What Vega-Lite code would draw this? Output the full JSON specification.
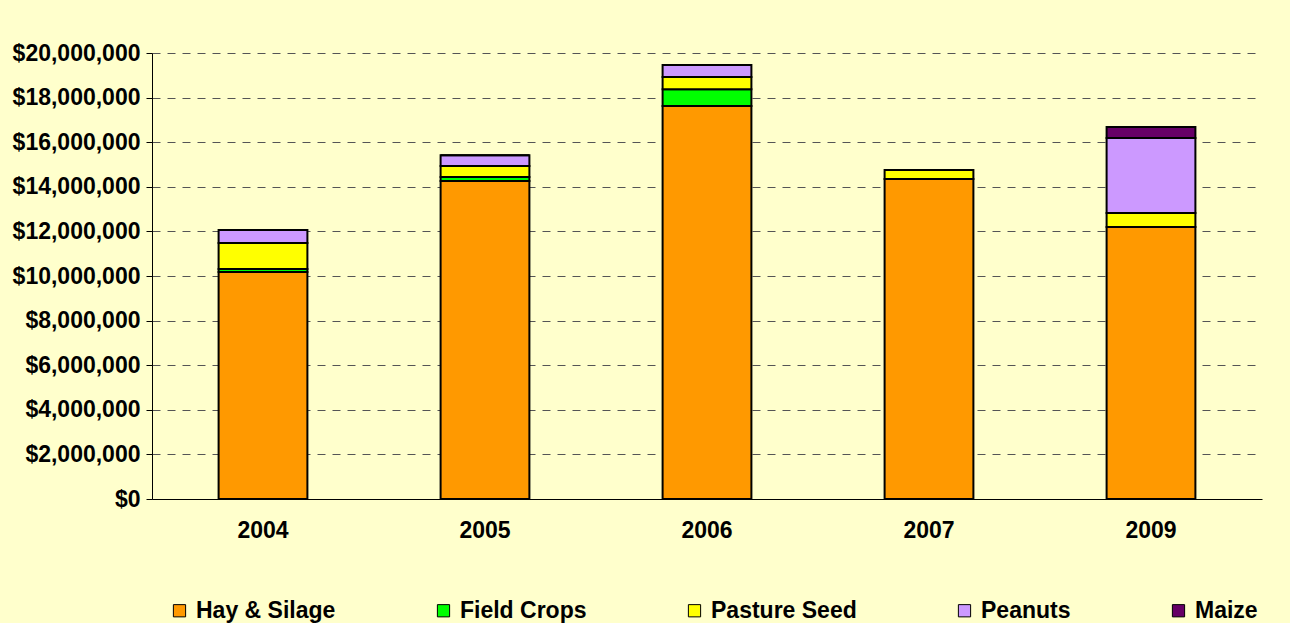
{
  "$schema": "https://vega.github.io/schema/vega-lite/v6.json",
  "width": 1110,
  "height": 446,
  "autosize": {"type": "none"},
  "padding": {"left": 152, "top": 53, "right": 28, "bottom": 124},
  "background": "#FFFFCC",
  "config": {
    "view": {"stroke": null},
    "font": "Liberation Sans"
  },
  "data": {
    "values": [
      {"year": "2004", "crop": "Hay & Silage", "order": 1, "value": 10180000},
      {"year": "2004", "crop": "Field Crops", "order": 2, "value": 130000},
      {"year": "2004", "crop": "Pasture Seed", "order": 3, "value": 1170000},
      {"year": "2004", "crop": "Peanuts", "order": 4, "value": 580000},
      {"year": "2004", "crop": "Maize", "order": 5, "value": 0},
      {"year": "2005", "crop": "Hay & Silage", "order": 1, "value": 14260000},
      {"year": "2005", "crop": "Field Crops", "order": 2, "value": 180000},
      {"year": "2005", "crop": "Pasture Seed", "order": 3, "value": 490000},
      {"year": "2005", "crop": "Peanuts", "order": 4, "value": 490000},
      {"year": "2005", "crop": "Maize", "order": 5, "value": 0},
      {"year": "2006", "crop": "Hay & Silage", "order": 1, "value": 17620000},
      {"year": "2006", "crop": "Field Crops", "order": 2, "value": 760000},
      {"year": "2006", "crop": "Pasture Seed", "order": 3, "value": 540000},
      {"year": "2006", "crop": "Peanuts", "order": 4, "value": 540000},
      {"year": "2006", "crop": "Maize", "order": 5, "value": 0},
      {"year": "2007", "crop": "Hay & Silage", "order": 1, "value": 14350000},
      {"year": "2007", "crop": "Field Crops", "order": 2, "value": 0},
      {"year": "2007", "crop": "Pasture Seed", "order": 3, "value": 400000},
      {"year": "2007", "crop": "Peanuts", "order": 4, "value": 0},
      {"year": "2007", "crop": "Maize", "order": 5, "value": 0},
      {"year": "2009", "crop": "Hay & Silage", "order": 1, "value": 12200000},
      {"year": "2009", "crop": "Field Crops", "order": 2, "value": 0},
      {"year": "2009", "crop": "Pasture Seed", "order": 3, "value": 630000},
      {"year": "2009", "crop": "Peanuts", "order": 4, "value": 3360000},
      {"year": "2009", "crop": "Maize", "order": 5, "value": 490000}
    ]
  },
  "mark": {"type": "bar", "stroke": "#000000", "strokeWidth": 2},
  "encoding": {
    "x": {
      "field": "year",
      "type": "nominal",
      "scale": {"paddingInner": 0.6, "paddingOuter": 0.3},
      "axis": {
        "title": null,
        "labelAngle": 0,
        "labelFont": "Liberation Sans",
        "labelFontSize": 23,
        "labelFontWeight": "bold",
        "labelColor": "#000000",
        "labelPadding": 20,
        "ticks": false,
        "domainColor": "#000000",
        "domainWidth": 1
      }
    },
    "y": {
      "field": "value",
      "type": "quantitative",
      "aggregate": "sum",
      "stack": "zero",
      "scale": {"domain": [0, 20000000], "nice": false},
      "axis": {
        "title": null,
        "values": [0, 2000000, 4000000, 6000000, 8000000, 10000000, 12000000, 14000000, 16000000, 18000000, 20000000],
        "format": "$,.0f",
        "labelFont": "Liberation Sans",
        "labelFontSize": 23,
        "labelFontWeight": "bold",
        "labelColor": "#000000",
        "labelPadding": 6,
        "tickSize": 6,
        "tickColor": "#000000",
        "domainColor": "#000000",
        "grid": true,
        "gridColor": "#555555",
        "gridDash": [8, 7],
        "gridWidth": 1
      }
    },
    "color": {
      "field": "crop",
      "type": "nominal",
      "scale": {
        "domain": ["Hay & Silage", "Field Crops", "Pasture Seed", "Peanuts", "Maize"],
        "range": ["#FF9900", "#00FF00", "#FFFF00", "#CC99FF", "#660066"]
      },
      "legend": {
        "title": null,
        "orient": "none",
        "direction": "horizontal",
        "legendX": 16,
        "legendY": 546,
        "symbolType": "square",
        "symbolSize": 150,
        "symbolStrokeColor": "#000000",
        "symbolStrokeWidth": 1,
        "symbolOpacity": 1,
        "labelFont": "Liberation Sans",
        "labelFontSize": 23,
        "labelFontWeight": "bold",
        "labelColor": "#000000",
        "columnPadding": 96,
        "labelOffset": 5
      }
    },
    "order": {"field": "order", "type": "quantitative", "sort": "ascending"}
  }
}
